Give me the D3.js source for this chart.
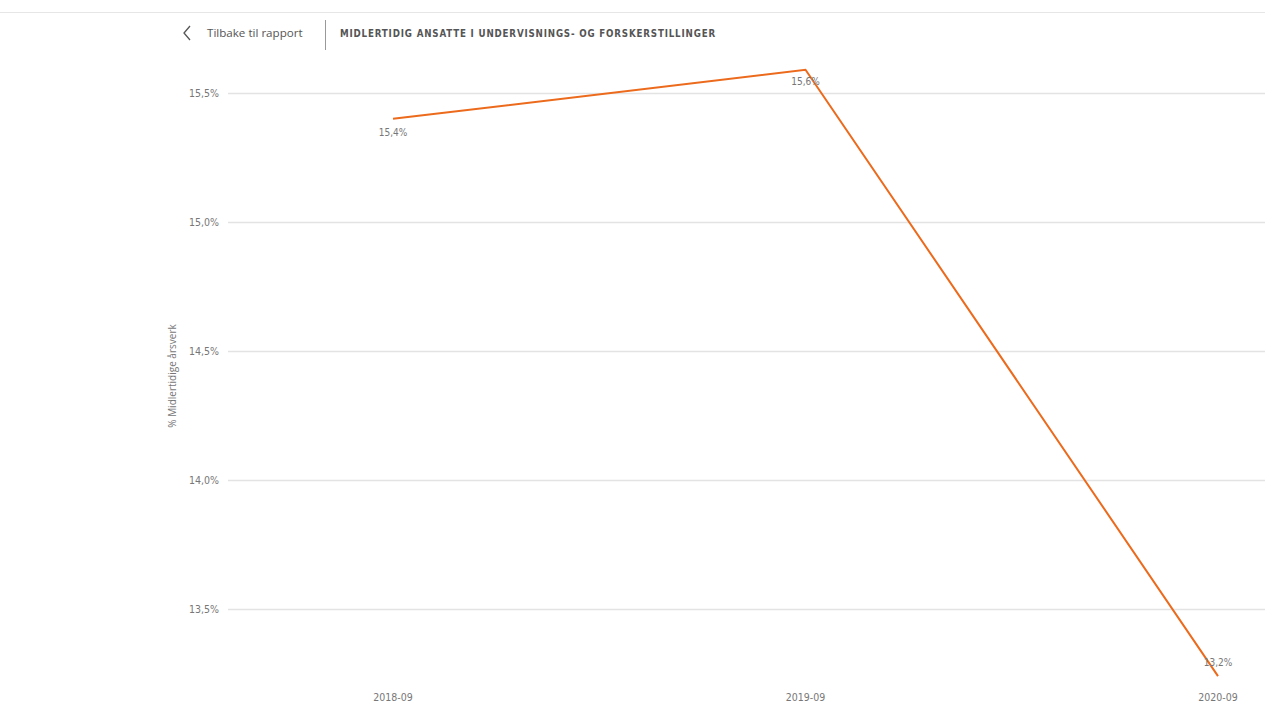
<!DOCTYPE html>
<html>
<head>
<meta charset="utf-8">
<script src="https://cdn.jsdelivr.net/npm/d3@7"></script>
<style>
  body { margin: 0; background: #fff; }
  svg { display: block; }
</style>
</head>
<body>
<script>
// data
const periods = ["2018-09", "2019-09", "2020-09"];
const shares = [15.40, 15.59, 13.24];
const shareLabels = ["15,4%", "15,6%", "13,2%"];
const yTicks = [13.5, 14.0, 14.5, 15.0, 15.5];

const width = 1265, height = 702;
const svg = d3.select("body").append("svg")
    .attr("width", width)
    .attr("height", height);

// header bar
svg.append("line")
    .attr("x1", 0).attr("x2", width)
    .attr("y1", 12.5).attr("y2", 12.5)
    .attr("stroke", "#e6e6e6");

svg.append("path")
    .attr("d", "M190,26 L184,33 L190,40")
    .attr("fill", "none")
    .attr("stroke", "#555")
    .attr("stroke-width", 1.3);

svg.append("text")
    .attr("x", 207).attr("y", 37)
    .attr("fill", "#555")
    .style("font-family", "'Open Sans', sans-serif")
    .style("font-size", "11.6px")
    .text("Tilbake til rapport");

svg.append("line")
    .attr("x1", 325.5).attr("x2", 325.5)
    .attr("y1", 20).attr("y2", 50)
    .attr("stroke", "#999");

svg.append("text")
    .attr("x", 340).attr("y", 36.5)
    .attr("fill", "#555")
    .style("font-family", "'DejaVu Sans Condensed', sans-serif")
    .style("font-weight", "bold")
    .style("font-size", "9.7px")
    .style("letter-spacing", "0.82px")
    .text("MIDLERTIDIG ANSATTE I UNDERVISNINGS- OG FORSKERSTILLINGER");

// scales
const x = d3.scalePoint().domain(periods).range([393, 1218]);
const y = d3.scaleLinear().domain([13.5, 15.5]).range([609, 93]);

// gridlines
const grid = svg.append("g");
grid.selectAll("line")
    .data(yTicks)
    .join("line")
    .attr("x1", 228).attr("x2", width)
    .attr("y1", d => Math.round(y(d)) + 0.5)
    .attr("y2", d => Math.round(y(d)) + 0.5)
    .attr("stroke", "#e3e3e3")
    .attr("stroke-width", 1.5);

// y tick labels
svg.append("g").selectAll("text")
    .data(yTicks)
    .join("text")
    .attr("x", 219)
    .attr("y", d => y(d) + 4)
    .attr("text-anchor", "end")
    .attr("fill", "#777")
    .style("font-family", "'DejaVu Sans Condensed', sans-serif")
    .style("font-size", "10.5px")
    .text(d => d3.format(".1f")(d).replace(".", ",") + "%");

// y axis title
svg.append("text")
    .attr("transform", `translate(176,${(y(15.5) + y(13.5)) / 2 + 25}) rotate(-90)`)
    .attr("text-anchor", "middle")
    .attr("fill", "#777")
    .style("font-family", "'Open Sans', sans-serif")
    .style("font-size", "10px")
    .text("% Midlertidige årsverk");

// x labels
svg.append("g").selectAll("text")
    .data(periods)
    .join("text")
    .attr("x", d => x(d))
    .attr("y", 701)
    .attr("text-anchor", "middle")
    .attr("fill", "#777")
    .style("font-family", "'DejaVu Sans Condensed', sans-serif")
    .style("font-size", "10.5px")
    .text(d => d);

// line
const line = d3.line()
    .x((d, i) => x(periods[i]))
    .y(d => y(d));

svg.append("path")
    .datum(shares)
    .attr("d", line)
    .attr("fill", "none")
    .attr("stroke", "#ec6a1c")
    .attr("stroke-width", 2);

// data labels
const labelDy = [17, 15, -10];
svg.append("g").selectAll("text")
    .data(shares)
    .join("text")
    .attr("x", (d, i) => x(periods[i]))
    .attr("y", (d, i) => y(d) + labelDy[i])
    .attr("text-anchor", "middle")
    .attr("fill", "#777")
    .style("font-family", "'DejaVu Sans Condensed', sans-serif")
    .style("font-size", "10px")
    .text((d, i) => shareLabels[i]);
</script>
</body>
</html>
